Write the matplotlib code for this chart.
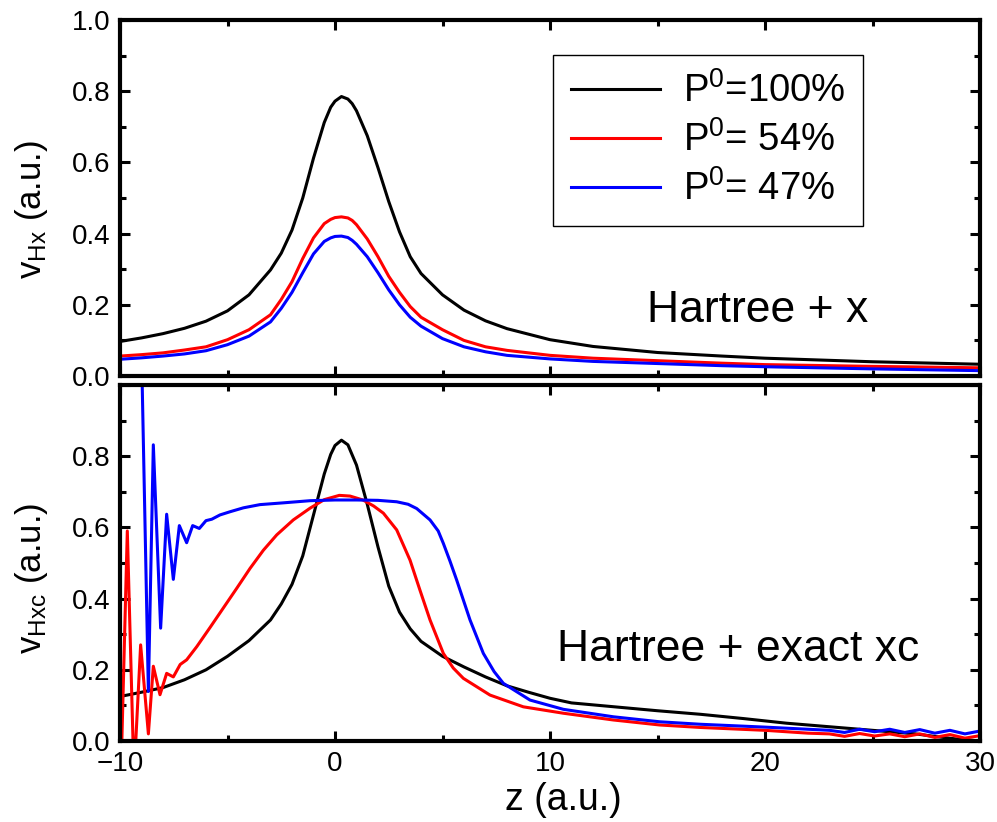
import numpy as np
import matplotlib
matplotlib.use('Agg')
import matplotlib.pyplot as plt
from matplotlib.ticker import MultipleLocator

plt.rcParams['font.family'] = ['Liberation Sans', 'DejaVu Sans']
plt.rcParams['mathtext.fontset'] = 'custom'
plt.rcParams['mathtext.rm'] = 'Liberation Sans'
plt.rcParams['mathtext.it'] = 'Liberation Sans'
plt.rcParams['mathtext.default'] = 'regular'

# ---------------------------------------------------------------------------
# Datos: panel superior (Hartree + x)
# ---------------------------------------------------------------------------
z_top = [-10, -9, -8, -7, -6, -5, -4, -3, -2.5, -2, -1.5, -1, -0.5, -0.2, 0,
         0.3, 0.6, 0.8, 1, 1.5, 2, 2.5, 3, 3.5, 4, 5, 6, 7, 8, 10, 12, 15, 18,
         20, 25, 30]
hx_100 = [0.097, 0.107, 0.119, 0.134, 0.154, 0.183, 0.228, 0.298, 0.345, 0.41,
          0.50, 0.612, 0.712, 0.755, 0.772, 0.785, 0.778, 0.765, 0.745, 0.675,
          0.585, 0.49, 0.405, 0.335, 0.288, 0.228, 0.185, 0.155, 0.133, 0.102,
          0.083, 0.066, 0.056, 0.05, 0.04, 0.033]
hx_54 = [0.056, 0.060, 0.065, 0.073, 0.082, 0.102, 0.13, 0.172, 0.215, 0.265,
         0.33, 0.388, 0.428, 0.44, 0.445, 0.447, 0.444, 0.437, 0.425, 0.385,
         0.335, 0.28, 0.235, 0.195, 0.165, 0.13, 0.10, 0.082, 0.072, 0.058,
         0.05, 0.043, 0.036, 0.032, 0.027, 0.023]
hx_47 = [0.047, 0.051, 0.056, 0.062, 0.071, 0.088, 0.112, 0.152, 0.19, 0.235,
         0.29, 0.343, 0.378, 0.388, 0.392, 0.393, 0.389, 0.381, 0.37, 0.335,
         0.29, 0.242, 0.20, 0.165, 0.14, 0.105, 0.082, 0.068, 0.058, 0.048,
         0.041, 0.035, 0.029, 0.026, 0.02, 0.015]

# ---------------------------------------------------------------------------
# Datos: panel inferior (Hartree + exact xc)
# ---------------------------------------------------------------------------
z_hxc_100 = [-10, -9, -8, -7, -6, -5, -4, -3, -2.5, -2, -1.5, -1, -0.5, -0.2,
             0, 0.3, 0.6, 1, 1.5, 2, 2.5, 3, 3.5, 4, 5, 6, 7, 8, 9, 10, 11, 13,
             15, 17, 19, 21, 23, 25, 27, 28, 29, 30]
hxc_100 = [0.125, 0.137, 0.15, 0.172, 0.20, 0.238, 0.282, 0.34, 0.385, 0.44,
           0.52, 0.635, 0.75, 0.805, 0.83, 0.845, 0.832, 0.775, 0.665, 0.545,
           0.435, 0.362, 0.315, 0.28, 0.238, 0.208, 0.18, 0.155, 0.137, 0.12,
           0.107, 0.096, 0.085, 0.075, 0.063, 0.05, 0.04, 0.03, 0.02, 0.012,
           0.005, 0.0]

z_hxc_54 = [-10, -9.66, -9.35, -9.04, -8.68, -8.45, -8.14, -7.83, -7.52, -7.2,
            -6.9, -6.43, -5.81, -5.19, -4.57, -3.95, -3.33, -2.71, -1.94, -1.16,
            -0.5, 0.2, 0.7, 1.3, 1.8, 2.25, 2.87, 3.49, 3.95, 4.42, 5.04, 5.5,
            5.97, 7.21, 8.76, 10.62, 12.95, 15.1, 17, 20, 22, 23, 23.7, 24.4,
            25.1, 25.8, 26.5, 27.2, 27.9, 28.6, 29.3, 30]
hxc_54 = [-0.2, 0.59, -0.1, 0.27, 0.02, 0.21, 0.13, 0.19, 0.18, 0.215,
          0.228, 0.265, 0.319, 0.374, 0.429, 0.485, 0.536, 0.579, 0.621, 0.654,
          0.678, 0.69, 0.688, 0.677, 0.66, 0.64, 0.593, 0.508, 0.424, 0.34,
          0.246, 0.205, 0.176, 0.129, 0.096, 0.078, 0.059, 0.045, 0.038, 0.03,
          0.022, 0.02, 0.013, 0.021, 0.014, 0.02, 0.012, 0.02, 0.01, 0.018,
          0.008, 0.015]

z_hxc_47 = [-9.0, -8.68, -8.45, -8.11, -7.83, -7.52, -7.24, -6.9, -6.62, -6.31,
            -6.0, -5.73, -5.35, -4.88, -4.26, -3.49, -2.4, -1.16, 0, 1, 2, 2.87,
            3.4, 3.8, 4.42, 4.8, 5.04, 5.35, 5.66, 6.28, 6.9, 7.4, 7.83, 9.07,
            10.62, 12.95, 15.1, 17, 20, 22, 23, 23.7, 24.4, 25.1, 25.8, 26.5,
            27.2, 27.9, 28.6, 29.3, 30]
hxc_47 = [1.1, 0.139, 0.832, 0.317, 0.637, 0.454, 0.605, 0.557, 0.605, 0.597,
          0.619, 0.623, 0.635, 0.644, 0.655, 0.664, 0.669, 0.675, 0.677, 0.677,
          0.676, 0.672, 0.665, 0.653, 0.621, 0.59, 0.555, 0.505, 0.452, 0.34,
          0.246, 0.195, 0.162, 0.115, 0.089, 0.068, 0.054, 0.047, 0.039, 0.033,
          0.03, 0.024, 0.033, 0.026, 0.033, 0.024, 0.032, 0.022, 0.03, 0.02,
          0.028]

etiquetas = [r'P$^0$=100%', r'P$^0$= 54%', r'P$^0$= 47%']
colores = ['black', '#ff0000', '#0000ff']

W, H = 997, 822
fig = plt.figure(figsize=(W / 100, H / 100), dpi=100)
ax1 = fig.add_axes([120 / W, 1 - 376 / H, 860 / W, 356 / H])
ax2 = fig.add_axes([120 / W, 1 - 741 / H, 860 / W, 356 / H])

lw = 2.2
for y, c, lab in zip([hx_100, hx_54, hx_47], colores, etiquetas):
    ax1.plot(z_top, y, color=c, lw=lw, label=lab)

ax2.plot(z_hxc_100, hxc_100, color=colores[0], lw=lw)
ax2.plot(z_hxc_54, hxc_54, color=colores[1], lw=lw)
ax2.plot(z_hxc_47, hxc_47, color=colores[2], lw=lw)

for ax in (ax1, ax2):
    ax.set_xlim(-10, 30)
    ax.set_ylim(0, 1.0)
    ax.xaxis.set_major_locator(MultipleLocator(10))
    ax.xaxis.set_minor_locator(MultipleLocator(5))
    ax.yaxis.set_major_locator(MultipleLocator(0.2))
    ax.yaxis.set_minor_locator(MultipleLocator(0.1))
    ax.tick_params(which='both', direction='in', top=True, right=True,
                   width=2.2, labelsize=20)
    ax.tick_params(which='major', length=7, pad=7)
    ax.tick_params(which='minor', length=4.5)
    for s in ax.spines.values():
        s.set_linewidth(3)

ax1.tick_params(labelbottom=False)
ax1.set_yticks([0, 0.2, 0.4, 0.6, 0.8, 1.0])
ax1.set_yticklabels(['0.0', '0.2', '0.4', '0.6', '0.8', '1.0'])
ax2.set_yticks([0, 0.2, 0.4, 0.6, 0.8, 1.0])
ax2.set_yticklabels(['0.0', '0.2', '0.4', '0.6', '0.8', ''])
ax2.set_xticks([-10, 0, 10, 20, 30])
ax2.set_xticklabels(['\u221210', '0', '10', '20', '30'])

ax1.text(0.742, 0.183, 'Hartree + x', transform=ax1.transAxes,
         fontsize=32, ha='center', va='center')
ax2.text(0.719, 0.256, 'Hartree + exact xc', transform=ax2.transAxes,
         fontsize=32, ha='center', va='center')

fig.text(32 / W, 1 - 209 / H, r'v$_{Hx}$ (a.u.)', rotation=90,
         ha='center', va='center', fontsize=25)
fig.text(32 / W, 1 - 578 / H, r'v$_{Hxc}$ (a.u.)', rotation=90,
         ha='center', va='center', fontsize=25)
fig.text(563 / W, 1 - 800 / H, 'z (a.u.)', ha='center', va='center',
         fontsize=27)

leg = ax1.legend(loc='upper right', bbox_to_anchor=(0.864, 0.902),
                 fontsize=27.5, frameon=True, fancybox=False, framealpha=1,
                 edgecolor='black', handlelength=2.35, handletextpad=0.6,
                 labelspacing=0.3, borderpad=0.45, borderaxespad=0)
leg.get_frame().set_linewidth(1.0)

fig.savefig('out.png', dpi=100)
